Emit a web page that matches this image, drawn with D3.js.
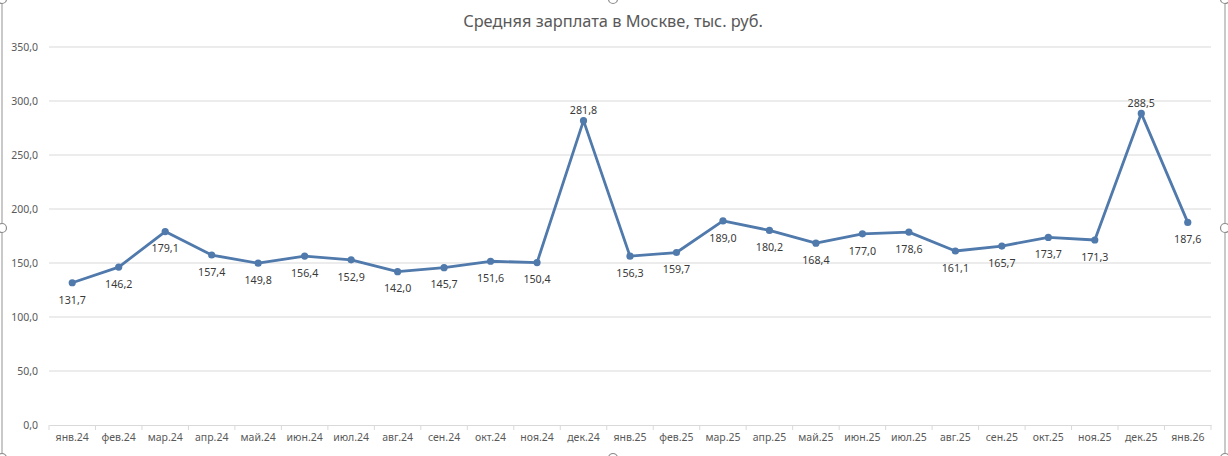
<!DOCTYPE html>
<html>
<head>
<meta charset="utf-8">
<script src="https://cdn.jsdelivr.net/npm/d3@7"></script>
<style>
  body { margin: 0; background: #fff; }
  svg { display: block; font-family: "Noto Sans", sans-serif; }
</style>
</head>
<body>
<div id="chart"></div>
<script>
// данные
const months = ["янв.24", "фев.24", "мар.24", "апр.24", "май.24", "июн.24", "июл.24", "авг.24", "сен.24", "окт.24", "ноя.24", "дек.24",
    "янв.25", "фев.25", "мар.25", "апр.25", "май.25", "июн.25", "июл.25", "авг.25", "сен.25", "окт.25", "ноя.25", "дек.25", "янв.26"]
const salary = [131.7, 146.2, 179.1, 157.4, 149.8, 156.4, 152.9, 142.0, 145.7, 151.6, 150.4, 281.8,
    156.3, 159.7, 189.0, 180.2, 168.4, 177.0, 178.6, 161.1, 165.7, 173.7, 171.3, 288.5, 187.6]
const yTicks = [0, 50, 100, 150, 200, 250, 300, 350]
const labelsAbove = ["дек.24", "дек.25"]
const title = "Средняя зарплата в Москве, тыс. руб."

const width = 1228
const height = 456
const margin = {top: 47, right: 17, bottom: 31, left: 49}

const fmt = v => d3.format(".1f")(v).replace(".", ",")

const svg = d3.select("#chart").append("svg")
    .attr("width", width)
    .attr("height", height)

const x = d3.scaleBand()
    .domain(months)
    .range([margin.left, width - margin.right])

const y = d3.scaleLinear()
    .domain([0, 350])
    .range([height - margin.bottom, margin.top])

// рамка выделенной диаграммы
svg.append("rect")
    .attr("x", 2).attr("y", -1)
    .attr("width", 1223).attr("height", 459)
    .attr("fill", "none")
    .attr("stroke", "#a6a6a6")
    .attr("stroke-width", 1.2)

// сетка
svg.append("g")
    .selectAll("line")
    .data(yTicks.slice(1))
    .join("line")
    .attr("x1", margin.left).attr("x2", width - margin.right)
    .attr("y1", d => y(d)).attr("y2", d => y(d))
    .attr("stroke", "#d9d9d9")
    .attr("stroke-width", 1)

// ось Y
svg.append("g")
    .selectAll("text")
    .data(yTicks)
    .join("text")
    .attr("x", 38)
    .attr("y", d => y(d))
    .attr("dy", "0.35em")
    .attr("text-anchor", "end")
    .attr("fill", "#595959")
    .style("font-size", "10.5px")
    .text(fmt)

// ось X
const xAxis = svg.append("g")
    .attr("transform", `translate(0,${y(0)})`)
    .call(d3.axisBottom(x).tickSize(0).tickPadding(9))
xAxis.select(".domain").attr("stroke", "#d9d9d9")
xAxis.selectAll("text")
    .attr("fill", "#595959")
    .style("font-size", "10.5px")
    .style("font-family", "Noto Sans, sans-serif")

svg.append("g")
    .selectAll("line")
    .data(months.concat([null]))
    .join("line")
    .attr("x1", (d, i) => margin.left + i * x.step())
    .attr("x2", (d, i) => margin.left + i * x.step())
    .attr("y1", y(0)).attr("y2", y(0) + 5)
    .attr("stroke", "#d9d9d9")

// линия
const cx = d => x(d) + x.bandwidth() / 2
const line = d3.line()
    .x((d, i) => cx(months[i]))
    .y(d => y(d))

svg.append("path")
    .datum(salary)
    .attr("d", line)
    .attr("fill", "none")
    .attr("stroke", "#5079ac")
    .attr("stroke-width", 2.8)
    .attr("stroke-linejoin", "round")

svg.append("g")
    .selectAll("circle")
    .data(salary)
    .join("circle")
    .attr("cx", (d, i) => cx(months[i]))
    .attr("cy", d => y(d))
    .attr("r", 3.6)
    .attr("fill", "#5079ac")

// подписи данных
svg.append("g")
    .selectAll("text")
    .data(salary)
    .join("text")
    .attr("x", (d, i) => cx(months[i]))
    .attr("y", (d, i) => y(d) + (labelsAbove.includes(months[i]) ? -10 : 17))
    .attr("dy", "0.35em")
    .attr("text-anchor", "middle")
    .attr("fill", "#3a3a3a")
    .style("font-size", "10.7px")
    .text(fmt)

// заголовок
svg.append("text")
    .attr("x", 613)
    .attr("y", 21)
    .attr("dy", "0.35em")
    .attr("text-anchor", "middle")
    .attr("fill", "#595959")
    .style("font-size", "16.4px")
    .text(title)

// маркеры выделения
const handles = [[2, -1], [613, -1], [1225, -1], [2, 228], [1225, 228], [2, 458], [613, 458], [1225, 458]]
svg.append("g")
    .selectAll("circle")
    .data(handles)
    .join("circle")
    .attr("cx", d => d[0]).attr("cy", d => d[1])
    .attr("r", 4.5)
    .attr("fill", "#fff")
    .attr("stroke", "#8c8c8c")
    .attr("stroke-width", 1.2)
</script>
</body>
</html>
